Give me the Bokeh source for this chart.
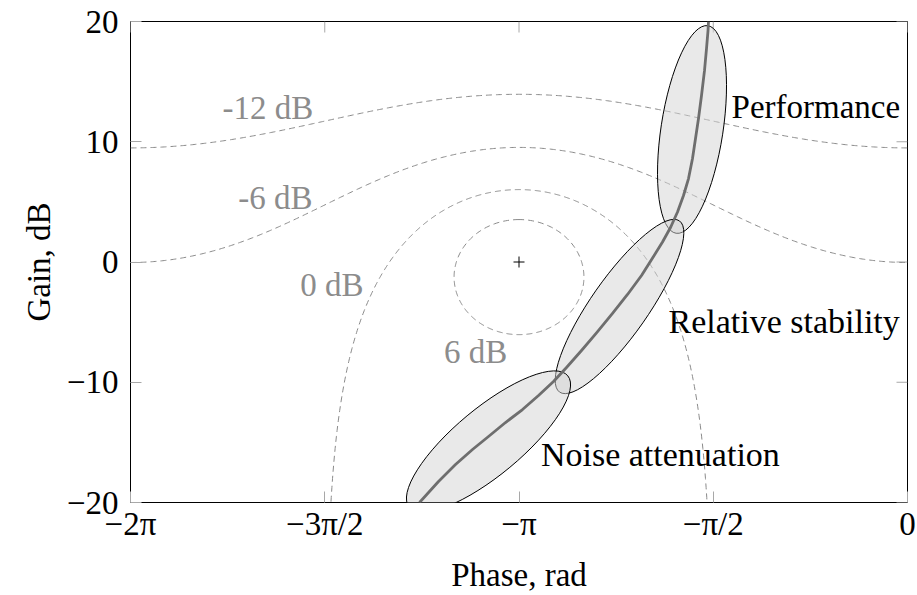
import numpy as np
from bokeh.plotting import figure
from bokeh.models import Range1d, FixedTicker, ColumnDataSource
from bokeh.core.properties import value
from bokeh.embed import file_html
from bokeh.resources import INLINE

# Closed-loop magnitude contours (dB) and their captions
m_levels_db = [-12, -6, 0, 6]
m_captions = ["-12 dB", "-6 dB", "0 dB", "6 dB"]
m_caption_phase = [-5.172, -5.111, -4.654, -3.493]
m_caption_gain = [12.82, 5.32, -1.88, -7.48]

# Open-loop frequency response (phase in rad, gain in dB)
loop_phase = [-3.9461, -3.7925, -3.6550, -3.5175, -3.3882, -3.2507, -3.1132, -2.9838,
              -2.8625, -2.7574, -2.6361, -2.5148, -2.3854, -2.2641, -2.1509, -2.0539,
              -1.9811, -1.9164, -1.8598, -1.8113, -1.7708, -1.7385, -1.7142, -1.6900,
              -1.6657, -1.6414, -1.6253, -1.6131, -1.6091]
loop_gain = [-20.0, -18.25, -16.84, -15.59, -14.51, -13.35, -12.27, -11.10,
             -9.94, -8.77, -7.36, -5.90, -4.28, -2.70, -1.12, 0.46,
             1.66, 2.87, 4.16, 5.53, 6.94, 8.61, 10.27, 11.93,
             13.85, 15.93, 17.75, 19.25, 20.0]

# Design regions along the response
band_names = ["Performance", "Relative stability", "Noise attenuation"]
band_phase = [-1.7425, -2.3288, -3.3882]
band_gain = [11.02, -3.70, -14.93]
band_tilt_deg = [81.3, 55.0, 39.7]
band_caption_phase = [-1.423, -1.933, -2.964]
band_caption_gain = [12.92, -4.94, -16.0]

# Axis ticks
x_ticks = [-2 * np.pi, -1.5 * np.pi, -np.pi, -0.5 * np.pi, 0.0]
x_tick_labels = ["\u22122\u03c0", "\u22123\u03c0/2", "\u2212\u03c0", "\u2212\u03c0/2", "0"]
y_ticks = [-20, -10, 0, 10, 20]
y_tick_labels = ["\u221220", "\u221210", "0", "10", "20"]

FONT = "Liberation Serif"
GREY_TEXT = "#8c8c8c"
TICK_GREY = "#a8a8a8"


def m_contour(level_db):
    """Phase/gain path of a constant closed-loop magnitude contour."""
    m = 10 ** (level_db / 20.0)
    if m < 1:
        phi = np.linspace(-2 * np.pi, 0, 600)
        c = np.cos(phi)
        r = (m * m * c + np.sqrt(m ** 4 * c * c + (1 - m * m) * m * m)) / (1 - m * m)
        return phi, -20 * np.log10(r)
    if m == 1:
        phi = np.linspace(-1.5 * np.pi + 1e-4, -0.5 * np.pi - 1e-4, 600)
        return phi, 20 * np.log10(-2 * np.cos(phi))
    centre = -m * m / (m * m - 1)
    rad = m / (m * m - 1)
    th = np.linspace(0, 2 * np.pi, 400)
    g = centre + rad * np.exp(1j * th)
    return np.mod(np.angle(g), 2 * np.pi) - 2 * np.pi, -20 * np.log10(np.abs(g))


x_lo, x_hi = -2 * np.pi, 0.0
y_lo, y_hi = -20, 20

p = figure(width=917, height=595,
           x_range=Range1d(x_lo, x_hi), y_range=Range1d(y_lo, y_hi),
           output_backend="svg", toolbar_location=None,
           min_border_left=130, min_border_right=10,
           min_border_top=21, min_border_bottom=93)
p.xgrid.visible = False
p.ygrid.visible = False
p.outline_line_color = "black"
p.outline_line_width = 1
p.background_fill_color = "white"
p.border_fill_color = "white"

for ax in (p.xaxis[0], p.yaxis[0]):
    ax.axis_line_color = None
    ax.major_tick_in = 11
    ax.major_tick_out = 0
    ax.major_tick_line_color = TICK_GREY
    ax.minor_tick_line_color = None
    ax.major_label_text_font = FONT
    ax.major_label_text_font_size = "33px"
    ax.major_label_text_color = "black"
    ax.axis_label_text_font = FONT
    ax.axis_label_text_font_size = "33px"
    ax.axis_label_text_font_style = "normal"
    ax.axis_label_text_color = "black"

p.xaxis[0].ticker = FixedTicker(ticks=x_ticks)
p.xaxis[0].major_label_overrides = dict(zip(x_ticks, x_tick_labels))
p.xaxis[0].axis_label = "Phase, rad"
p.xaxis[0].major_label_standoff = 3
p.xaxis[0].axis_label_standoff = 12

p.yaxis[0].ticker = FixedTicker(ticks=y_ticks)
p.yaxis[0].major_label_overrides = dict(zip(y_ticks, y_tick_labels))
p.yaxis[0].axis_label = "Gain, dB"
p.yaxis[0].major_label_standoff = 12
p.yaxis[0].axis_label_standoff = 7

# mirrored tick marks along the top and right edges
p.ray(x=x_ticks, y=[y_hi] * len(x_ticks), length=11, length_units="screen",
      angle=-90, angle_units="deg", line_color=TICK_GREY, line_width=1)
p.ray(x=[x_hi] * len(y_ticks), y=y_ticks, length=11, length_units="screen",
      angle=180, angle_units="deg", line_color=TICK_GREY, line_width=1)

# contours
for lvl in m_levels_db:
    ph, gn = m_contour(lvl)
    p.line(ph, gn, line_color="#8a8a8a", line_width=1, line_dash="6 4")

p.text(x=m_caption_phase, y=m_caption_gain, text=m_captions,
       text_font=value(FONT), text_font_size="33px", text_color=GREY_TEXT,
       text_align="center", text_baseline="alphabetic")

# critical point
p.scatter([-np.pi], [0], marker="cross", size=11, line_color="black", line_width=1)

# design regions
p.ellipse(x=band_phase, y=band_gain, width=[210, 209, 206], height=[62, 57, 67],
          angle=band_tilt_deg, angle_units="deg",
          width_units="screen", height_units="screen",
          fill_color="#d4d4d4", fill_alpha=0.5, line_color="black", line_width=1)

# open-loop response
p.line(loop_phase, loop_gain, line_color="#6e6e6e", line_width=2.8,
       line_join="round")

captions = ColumnDataSource(dict(x=band_caption_phase, y=band_caption_gain,
                                 text=band_names, size=["33px", "34px", "34px"]))
p.text(x="x", y="y", text="text", source=captions, text_font_size="size",
       text_font=value(FONT), text_color="black",
       text_align="left", text_baseline="alphabetic")

open("out.html", "w").write(file_html(p, INLINE))
